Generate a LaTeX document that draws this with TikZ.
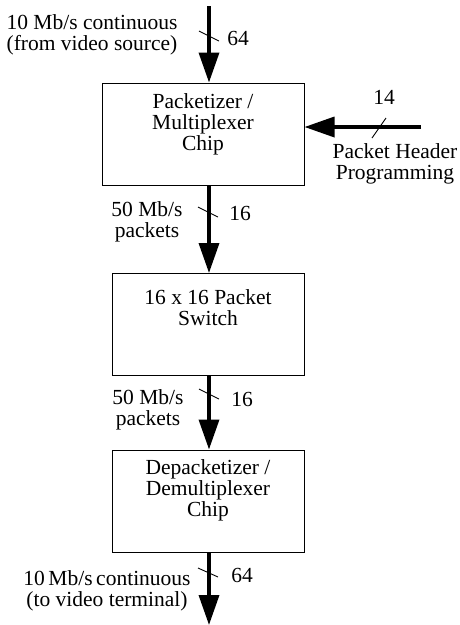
\documentclass[tikz,border=0pt]{standalone}
\usepackage{fontspec}
\setmainfont{Liberation Serif}
\usetikzlibrary{arrows.meta}
\begin{document}
\begin{tikzpicture}[x=1pt,y=-1pt,
  every node/.style={font=\fontsize{21.5}{21}\selectfont, inner sep=0pt},
  lbl/.style={align=center},
  chip/.style={draw, line width=1pt, minimum height=102pt},
  flow/.style={line width=3.5pt, -{Triangle[length=30pt,width=20pt]}},
  tick/.style={line width=0.9pt}]
\useasboundingbox (0,0) rectangle (459,625);

% processing blocks
\node[chip, minimum width=202pt,
  label={[lbl,yshift=9.5pt]center:Packetizer /\\Multiplexer\\Chip}] (pkt) at (203,134) {};
\node[chip, minimum width=192pt,
  label={[lbl,yshift=16.5pt]center:16 x 16 Packet\\Switch}] (sw) at (208,324.5) {};
\node[chip, minimum width=192pt,
  label={[lbl,yshift=10.5pt]center:Depacketizer /\\Demultiplexer\\Chip}] (dp) at (208,501) {};

% free ends of the data paths
\coordinate (src) at (209,6);
\coordinate (hdr) at (421,127);
\coordinate (dst) at (209,625);

% data paths
\draw[flow] (src) -- (src |- pkt.north);
\draw[flow] (hdr) -- (hdr -| pkt.east);
\draw[flow] (src |- pkt.south) -- (src |- sw.north);
\draw[flow] (src |- sw.south) -- (src |- dp.north);
\draw[flow] (src |- dp.south) -- (dst);

% bus-width ticks
\draw[tick] (199,31) -- (219,41);
\draw[tick] (372,138) -- (386,118);
\draw[tick] (198,207) -- (218,217);
\draw[tick] (199,389) -- (219,399);
\draw[tick] (198,568) -- (218,577);

% bus widths
\node (w1) at (238,38.5) {64};
\node (w2) at (384,97) {14};
\node (w3) at (240,213) {16};
\node (w4) at (242,399) {16};
\node (w5) at (242,575) {64};

% rates
\node[lbl] (inlbl) at (92,35) {10 Mb/s continuous\\(from video source)};
\node[lbl] (hdrlbl) at (395,164) {Packet Header\\Programming};
\node[lbl] (r1) at (147,221.5) {50 Mb/s\\packets};
\node[lbl] (r2) at (148,410) {50 Mb/s\\packets};
\node[lbl] (outlbl) at (107,591) {10\,Mb/s\,continuous\\(to video terminal)};
\end{tikzpicture}
\end{document}
